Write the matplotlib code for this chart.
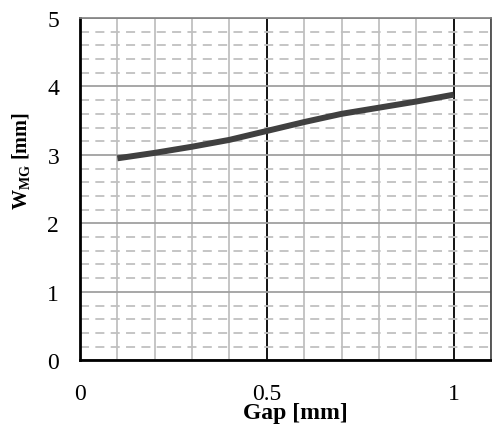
import numpy as np
import matplotlib
matplotlib.use("Agg")
import matplotlib.pyplot as plt
from matplotlib.ticker import MultipleLocator

gap = [0.1, 0.2, 0.3, 0.4, 0.5, 0.6, 0.7, 0.8, 0.9, 1.0]
wmg = [2.95, 3.03, 3.12, 3.22, 3.35, 3.48, 3.60, 3.69, 3.78, 3.88]
xticks = [0, 0.5, 1]
xticklabels = ["0", "0.5", "1"]
yticks = [0, 1, 2, 3, 4, 5]

plt.rcParams['font.family'] = ['Liberation Serif', 'DejaVu Serif']
plt.rcParams['mathtext.fontset'] = 'custom'
plt.rcParams['mathtext.rm'] = 'Liberation Serif'
plt.rcParams['mathtext.bf'] = 'Liberation Serif:bold'

fig = plt.figure(figsize=(4.92, 4.27), dpi=100)
ax = fig.add_axes([80/492, 1-361.3/427, 411/492, (361.3-19)/427])

ax.plot(gap, wmg, color='#404040', lw=4.3, solid_capstyle='butt', zorder=3)

ax.set_xlim(0, 1.1)
ax.set_ylim(0, 5)
ax.set_xticks(xticks)
ax.set_xticklabels(xticklabels)
ax.xaxis.set_minor_locator(MultipleLocator(0.1))
ax.set_yticks(yticks)
ax.yaxis.set_minor_locator(MultipleLocator(0.2))

ax.set_axisbelow(True)
ax.xaxis.grid(True, which='major', color='black', lw=1.3)
ax.xaxis.grid(True, which='minor', color='#c0c0c0', lw=1.3)
ax.yaxis.grid(True, which='major', color='#a0a0a0', lw=1.3)
ax.yaxis.grid(True, which='minor', color='#c0c0c0', lw=1.3, ls=(0, (5, 3.5)))

ax.tick_params(which='both', length=0)
ax.tick_params(axis='x', labelsize=17, pad=16)
ax.tick_params(axis='y', labelsize=17, pad=15)

for s in ['left', 'bottom']:
    ax.spines[s].set_color('black')
    ax.spines[s].set_linewidth(2)
ax.spines['top'].set_color('#808080')
ax.spines['top'].set_linewidth(1.2)
ax.spines['right'].set_color('#404040')
ax.spines['right'].set_linewidth(1.2)

ax.set_xlabel('Gap [mm]', fontsize=17, fontweight='bold')
ax.xaxis.set_label_coords((295.5-80)/411, -(414-361.3)/342.3)
ax.xaxis.label.set_va('center')
ax.set_ylabel(r'$\mathbf{W}_{\mathbf{MG}}$ [mm]', fontsize=14.5, fontweight='bold')
ax.yaxis.set_label_coords((22-80)/411, (361.3-161)/342.3)
ax.yaxis.label.set_va('center')

fig.savefig('out.png', dpi=100)
